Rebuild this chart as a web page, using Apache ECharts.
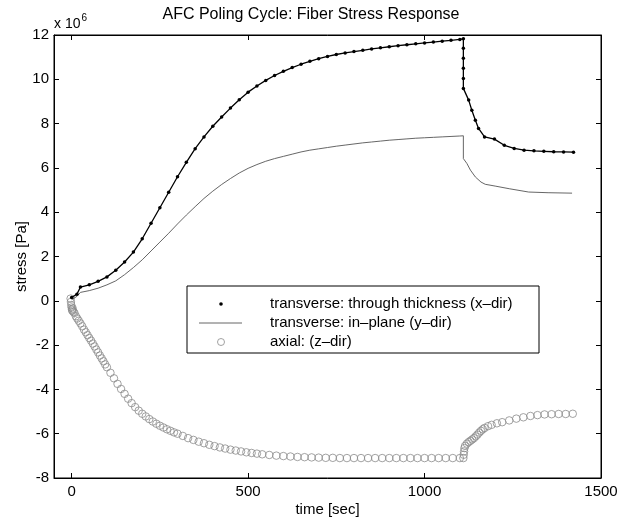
<!DOCTYPE html>
<html>
<head>
<meta charset="utf-8">
<title>AFC Poling Cycle</title>
<script src="https://cdn.jsdelivr.net/npm/echarts@6/dist/echarts.min.js"></script>
<style>
  html, body { margin: 0; padding: 0; background: #fff; }
  #main { width: 622px; height: 525px; }
</style>
</head>
<body>
<div id="main"></div>
<script>
// stress values are in units of 1e6 Pa
var xTicks = [0, 500, 1000, 1500];

// transverse: through thickness (x-dir)
var timeX = [0, 15, 25, 50, 75, 100, 125, 150, 175, 200, 225, 250, 275, 300, 325, 350, 375, 400, 425, 450,
    475, 500, 525, 550, 575, 600, 625, 650, 675, 700, 725, 750, 775, 800, 825, 850, 875, 900, 925, 950,
    975, 1000, 1025, 1050, 1075, 1100, 1110, 1110, 1110, 1110, 1110, 1110, 1125, 1134, 1144, 1153, 1170,
    1198, 1226, 1254, 1282, 1310, 1338, 1366, 1394, 1422];
var stressX = [0.15, 0.3, 0.62, 0.72, 0.88, 1.08, 1.38, 1.75, 2.2, 2.8, 3.5, 4.2, 4.9, 5.6, 6.25, 6.87, 7.4, 7.88, 8.3, 8.7,
    9.08, 9.42, 9.7, 9.95, 10.17, 10.36, 10.53, 10.68, 10.81, 10.93, 11.03, 11.12, 11.19, 11.25, 11.31, 11.37, 11.42, 11.47, 11.52, 11.56,
    11.6, 11.64, 11.68, 11.72, 11.76, 11.8, 11.83, 11.4, 10.95, 10.5, 10.04, 9.59, 9.06, 8.6, 8.15, 7.78, 7.4,
    7.3, 7.02, 6.88, 6.8, 6.77, 6.75, 6.73, 6.72, 6.71];

// transverse: in-plane (y-dir)
var timeY = [0, 15, 25, 50, 75, 100, 125, 150, 175, 200, 225, 250, 275, 300, 325, 350, 375, 400, 425, 450,
    475, 500, 525, 550, 575, 600, 625, 650, 675, 700, 725, 750, 775, 800, 825, 850, 875, 900, 925, 950,
    975, 1000, 1025, 1050, 1075, 1100, 1110, 1110, 1120, 1130, 1144, 1160, 1172, 1200, 1240, 1295, 1350, 1418];
var stressY = [0.05, 0.2, 0.38, 0.46, 0.57, 0.72, 0.9, 1.18, 1.5, 1.85, 2.25, 2.65, 3.05, 3.47, 3.87, 4.25, 4.62, 4.95, 5.25, 5.52,
    5.77, 5.98, 6.15, 6.3, 6.42, 6.52, 6.62, 6.72, 6.8, 6.86, 6.92, 6.98, 7.03, 7.08, 7.13, 7.17, 7.21, 7.25, 7.28, 7.31,
    7.34, 7.36, 7.38, 7.4, 7.42, 7.44, 7.45, 6.42, 6.2, 5.9, 5.59, 5.36, 5.26, 5.18, 5.06, 4.91, 4.88, 4.86];

// axial: (z-dir)
var timeZ = [-3, -2, -1, 0, 1, 2, 3, 5, 8, 12, 16, 20, 25, 30, 35, 40, 45, 50, 55, 60,
    65, 70, 75, 80, 85, 90, 95, 100, 110, 120, 130, 140, 150, 160, 170, 180, 190, 200, 210, 220,
    230, 240, 250, 260, 270, 280, 290, 300, 315, 330, 345, 360, 375, 390, 405, 420, 435, 450, 465, 480,
    495, 510, 525, 540, 560, 580, 600, 620, 640, 660, 680, 700, 720, 740, 760, 780, 800, 820, 840, 860,
    880, 900, 920, 940, 960, 980, 1000, 1020, 1040, 1060, 1080, 1100, 1110, 1111, 1112, 1113, 1115, 1120, 1125, 1130,
    1135, 1140, 1145, 1150, 1155, 1160, 1165, 1170, 1180, 1190, 1205, 1220, 1240, 1260, 1280, 1300, 1320, 1340, 1360, 1380,
    1400, 1420];
var stressZ = [0.1, -0.05, -0.2, -0.3, -0.4, -0.45, -0.35, -0.5, -0.55, -0.7, -0.8, -0.9, -1.02, -1.15, -1.3, -1.42, -1.55, -1.68, -1.8, -1.93,
    -2.06, -2.2, -2.33, -2.47, -2.6, -2.73, -2.87, -3.0, -3.25, -3.5, -3.75, -3.98, -4.2, -4.42, -4.62, -4.8, -4.96, -5.1, -5.22, -5.34,
    -5.45, -5.55, -5.64, -5.72, -5.8, -5.87, -5.94, -6.0, -6.1, -6.2, -6.28, -6.36, -6.43, -6.5, -6.56, -6.62, -6.67, -6.72, -6.76, -6.8,
    -6.84, -6.87, -6.9, -6.93, -6.96, -6.99, -7.01, -7.03, -7.05, -7.06, -7.07, -7.08, -7.09, -7.09, -7.1, -7.1, -7.1, -7.1, -7.1, -7.1,
    -7.1, -7.1, -7.1, -7.1, -7.1, -7.1, -7.1, -7.1, -7.1, -7.1, -7.1, -7.1, -7.1, -6.95, -6.8, -6.65, -6.55, -6.45, -6.38, -6.32,
    -6.26, -6.2, -6.12, -6.04, -5.95, -5.87, -5.8, -5.74, -5.66, -5.6, -5.53, -5.48, -5.4, -5.32, -5.26, -5.2, -5.16, -5.13, -5.12, -5.11,
    -5.11, -5.1];

var nameX = 'transverse: through thickness (x–dir)';
var nameY = 'transverse: in–plane (y–dir)';
var nameZ = 'axial: (z–dir)';

function pairs(ts, vs) {
    var out = [];
    for (var i = 0; i < ts.length; i++) {
        out.push([ts[i], vs[i]]);
    }
    return out;
}

var font = 'Liberation Sans, Arial, Helvetica, sans-serif';
var chart = echarts.init(document.getElementById('main'));

function legendText(txt, y) {
    return {
        type: 'text', x: 270, y: y, z: 6,
        style: { text: txt, fontFamily: font, fontSize: 15, fill: '#000', verticalAlign: 'middle' }
    };
}

var option = {
    animation: false,
    backgroundColor: '#fff',
    title: {
        text: 'AFC Poling Cycle: Fiber Stress Response',
        left: 'center',
        top: 7,
        padding: 0,
        textStyle: { fontFamily: font, fontSize: 16, fontWeight: 'normal', color: '#000' }
    },
    grid: { left: 54, right: 21, top: 35, bottom: 47, show: true, borderColor: '#000', borderWidth: 1 },
    graphic: [
        // legend box
        {
            type: 'rect', z: 5,
            shape: { x: 187, y: 286, width: 352, height: 67 },
            style: { fill: '#fff', stroke: '#000', lineWidth: 1 }
        },
        { type: 'circle', z: 6, shape: { cx: 221, cy: 304, r: 1.8 }, style: { fill: '#000' } },
        { type: 'line', z: 6, shape: { x1: 199, y1: 323, x2: 242, y2: 323 }, style: { stroke: '#555', lineWidth: 0.9 } },
        { type: 'circle', z: 6, shape: { cx: 221, cy: 342, r: 3.5 }, style: { fill: 'none', stroke: '#8a8a8a', lineWidth: 0.8 } },
        legendText(nameX, 304),
        legendText(nameY, 323),
        legendText(nameZ, 342),
        {
            type: 'text', left: 54, top: 13, z: 5,
            style: {
                text: '{a|x 10}{b|6}',
                rich: {
                    a: { fontFamily: font, fontSize: 14, color: '#000', verticalAlign: 'bottom' },
                    b: { fontFamily: font, fontSize: 10, color: '#000', verticalAlign: 'top', padding: [0, 0, 8, 1] }
                }
            }
        }
    ],
    xAxis: [
        {
            type: 'value', min: -50, max: 1500, position: 'bottom',
            name: 'time [sec]', nameLocation: 'middle', nameGap: 24, nameMoveOverlap: false,
            nameTextStyle: { fontFamily: font, fontSize: 15, color: '#000' },
            axisLine: { onZero: false, lineStyle: { color: '#000', width: 1 } },
            axisTick: { inside: true, length: 5, customValues: xTicks, lineStyle: { color: '#000' } },
            axisLabel: {
                customValues: xTicks, fontFamily: font, fontSize: 15, color: '#000', margin: 6,
                formatter: function (v) { return String(v); }
            },
            splitLine: { show: false }
        },
        {
            type: 'value', min: -50, max: 1500, position: 'top',
            axisLine: { onZero: false, lineStyle: { color: '#000', width: 1 } },
            axisTick: { inside: true, length: 5, customValues: xTicks, lineStyle: { color: '#000' } },
            axisLabel: { show: false },
            splitLine: { show: false }
        }
    ],
    yAxis: [
        {
            type: 'value', min: -8, max: 12, interval: 2, position: 'left',
            name: 'stress [Pa]', nameLocation: 'middle', nameGap: 25, nameMoveOverlap: false,
            nameTextStyle: { fontFamily: font, fontSize: 15, color: '#000' },
            axisLine: { show: true, onZero: false, lineStyle: { color: '#000', width: 1 } },
            axisTick: { show: true, inside: true, length: 5, lineStyle: { color: '#000' } },
            axisLabel: { fontFamily: font, fontSize: 15, color: '#000', margin: 5 },
            splitLine: { show: false }
        },
        {
            type: 'value', min: -8, max: 12, interval: 2, position: 'right',
            axisLine: { show: true, onZero: false, lineStyle: { color: '#000', width: 1 } },
            axisTick: { show: true, inside: true, length: 5, lineStyle: { color: '#000' } },
            axisLabel: { show: false },
            splitLine: { show: false }
        }
    ],
    series: [
        {
            name: nameZ, type: 'line',
            data: pairs(timeZ, stressZ),
            symbol: 'circle', symbolSize: 7.5, showAllSymbol: true,
            lineStyle: { width: 0, opacity: 0 },
            itemStyle: { color: 'rgba(0,0,0,0)', borderColor: '#8a8a8a', borderWidth: 0.8 },
            z: 2
        },
        {
            name: nameY, type: 'line',
            data: pairs(timeY, stressY),
            symbol: 'none',
            lineStyle: { color: '#555', width: 0.9 },
            z: 3
        },
        {
            name: nameX, type: 'line',
            data: pairs(timeX, stressX),
            symbol: 'circle', symbolSize: 3.5, showAllSymbol: true,
            lineStyle: { color: '#000', width: 1.3 },
            itemStyle: { color: '#000' },
            z: 4
        }
    ]
};

chart.setOption(option);
</script>
</body>
</html>
